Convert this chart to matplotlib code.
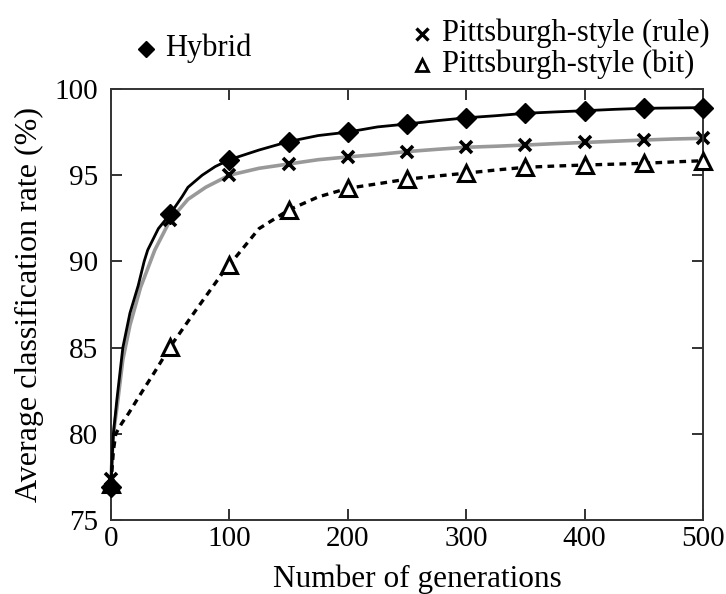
import numpy as np
import matplotlib
matplotlib.use("Agg")
import matplotlib.pyplot as plt
from matplotlib.lines import Line2D

plt.rcParams['font.family'] = ['Liberation Serif', 'DejaVu Serif']

# values (generation, classification rate %)
hybrid_gen = [0, 1, 2, 5, 10, 16, 23, 28, 31, 40, 50, 60, 65, 77, 88, 100,
              125, 150, 175, 200, 225, 250, 275, 300, 325, 350, 375, 400,
              425, 450, 475, 500]
hybrid_val = [76.9, 78.6, 80.0, 82.0, 85.0, 87.0, 88.6, 90.0, 90.66, 91.9,
              92.75, 93.75, 94.3, 95.0, 95.5, 95.9, 96.46, 96.95, 97.3, 97.5,
              97.8, 97.97, 98.16, 98.33, 98.45, 98.59, 98.67, 98.74, 98.82,
              98.88, 98.9, 98.92]

rule_gen = [0, 1, 2, 5, 10, 16, 25, 37, 50, 65, 80, 100, 125, 150, 175, 200,
            225, 250, 275, 300, 325, 350, 375, 400, 425, 450, 475, 500]
rule_val = [77.4, 78.8, 80.0, 81.5, 84.3, 86.3, 88.5, 90.66, 92.4, 93.6,
            94.3, 95.0, 95.4, 95.65, 95.9, 96.06, 96.2, 96.37, 96.5, 96.62,
            96.68, 96.75, 96.83, 96.9, 96.97, 97.04, 97.1, 97.14]

bit_gen = [0, 2, 4, 9, 15, 24, 37, 50, 73, 95, 100, 125, 150, 175, 200, 225,
           250, 275, 300, 325, 350, 375, 400, 425, 450, 475, 500]
bit_val = [77.1, 79.0, 80.0, 80.6, 81.2, 82.2, 83.6, 85.05, 87.3, 89.4, 89.8,
           91.9, 92.98, 93.74, 94.24, 94.5, 94.77, 94.95, 95.12, 95.3, 95.46,
           95.53, 95.59, 95.64, 95.69, 95.77, 95.84]

x_ticks = [0, 100, 200, 300, 400, 500]
y_ticks = [75, 80, 85, 90, 95, 100]


def every50(gens):
    return [i for i, g in enumerate(gens) if g % 50 == 0]


W, H = 726, 594
fig = plt.figure(figsize=(W/100, H/100), dpi=100)
ax = fig.add_axes([111/W, 1 - 520/H, 592/W, 431/H])

ax.plot(rule_gen, rule_val, color='#999999', lw=2.6, zorder=2,
        marker='x', markevery=every50(rule_gen), ms=9, mew=2.6,
        mec='black', clip_on=False)
ax.plot(bit_gen, bit_val, color='black', lw=2.4, ls=(0, (2.0, 1.6)), zorder=3,
        marker='^', markevery=every50(bit_gen), ms=11, mew=2.2,
        mfc='white', mec='black', clip_on=False)
ax.plot(hybrid_gen, hybrid_val, color='black', lw=2.0, zorder=4,
        marker='D', markevery=every50(hybrid_gen), ms=10.5,
        mfc='black', mec='black', clip_on=False)

ax.set_xlim(0, 500)
ax.set_ylim(75, 100)
ax.set_xticks(x_ticks)
ax.set_yticks(y_ticks)
ax.tick_params(direction='in', length=8, width=1.3, top=True, right=True,
               labelsize=21, colors='#222222', labelcolor='black')
ax.tick_params(axis='x', pad=4)
ax.tick_params(axis='y', pad=9)
for s in ax.spines.values():
    s.set_linewidth(1.4)
    s.set_color('#333333')

ax.set_xlabel('Number of generations', fontsize=22.5)
ax.set_ylabel('Average classification rate (%)', fontsize=23)
ax.xaxis.set_label_coords((417 - 111) / 592, -0.103)
ax.yaxis.set_label_coords((44 - 111) / 592, 0.5)

# legend drawn by hand, outside the axes
leg_fs = 22
fig.add_artist(Line2D([422/W], [1 - 34/H], ls='none', marker='x', ms=8,
                      mew=2.4, color='black'))
fig.text(442/W, 1 - 33/H, 'Pittsburgh-style (rule)', fontsize=leg_fs,
         va='center', ha='left')
fig.add_artist(Line2D([422/W], [1 - 65/H], ls='none', marker='^', ms=9,
                      mew=2.0, mfc='white', mec='black'))
fig.text(442/W, 1 - 64/H, 'Pittsburgh-style (bit)', fontsize=leg_fs,
         va='center', ha='left')
fig.add_artist(Line2D([146/W], [1 - 49/H], ls='none', marker='D', ms=8,
                      color='black'))
fig.text(165/W, 1 - 48/H, 'Hybrid', fontsize=leg_fs, va='center', ha='left')

fig.savefig('out.png', dpi=100)
